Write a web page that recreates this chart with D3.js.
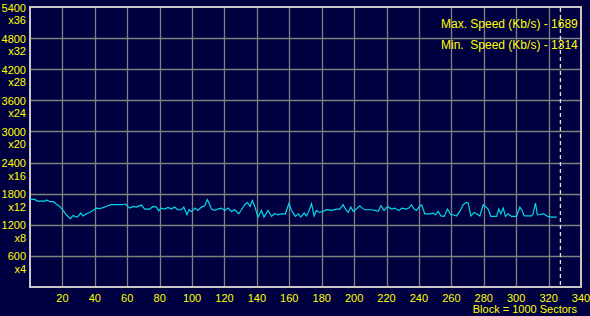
<!DOCTYPE html>
<html>
<head>
<meta charset="utf-8">
<script src="https://cdn.jsdelivr.net/npm/d3@7"></script>
<style>
  html, body { margin: 0; padding: 0; background: #000040; }
  svg { display: block; }
  text { font-family: "Liberation Sans", Arial, sans-serif; font-size: 11px; fill: #ffff00; }
  text.legend { font-size: 12px; white-space: pre; }
</style>
</head>
<body>
<svg id="chart" width="590" height="316"></svg>
<script>
// block number (x 1000 sectors) and read speed (Kb/s)
const blocks = [0, 3, 4.5, 9.5, 10, 12.5, 14.5, 16, 18.3, 20.4, 22.4, 24.9, 26.5, 28.6, 29.6, 31.3, 32.7, 34.8, 36.8, 38.9,
  41, 43, 46, 48, 50, 55, 57, 58.8, 61.5, 63.6, 65.6, 68.7, 70.8, 73.9, 75.9, 78, 79.4, 81, 83, 85.2,
  87.2, 89.3, 91, 93.4, 94.9, 96.9, 98.1, 99.6, 102, 103.5, 105.8, 107.8, 109.4, 110.3, 111.9, 114, 116, 118.1, 120.2, 122.2,
  124.3, 126.3, 128.8, 130.5, 132.5, 134.1, 135.8, 137.2, 138.7, 140.7, 142.8, 144.4, 146.9, 149, 151, 153, 155.1, 157.6, 159.7, 161.7,
  163.8, 165.6, 167.1, 169.1, 170.6, 172, 173.7, 175.3, 176.7, 178.8, 180.9, 182.9, 186, 189.1, 191.2, 193.2, 194.9, 196.3, 198, 199.4,
  200.8, 203.5, 205.6, 207.6, 210.7, 212.8, 214.8, 216.5, 218.5, 220.6, 223.1, 225.1, 227.6, 229.6, 232.3, 233.7, 235.4, 237, 238.5, 240,
  241.6, 243.6, 246.7, 248.8, 250.2, 251.9, 253.5, 255.6, 257.6, 259.7, 261.1, 263.2, 265.2, 267.3, 269.3, 270.4, 272, 274.1, 275.5, 277.6,
  279.6, 281, 282.7, 284.4, 287.9, 289.3, 290.5, 292, 293.4, 295, 297.1, 300.2, 302.3, 303.7, 304.9, 309.5, 310.5, 311.9, 313.1, 315.2,
  316.7, 319.5, 321.8, 325];
const speeds = [1689, 1689, 1658, 1658, 1677, 1645, 1645, 1606, 1554, 1477, 1393, 1314, 1380, 1348, 1360, 1426, 1370, 1412, 1438, 1477,
  1522, 1510, 1541, 1567, 1587, 1587, 1587, 1600, 1522, 1554, 1541, 1580, 1503, 1503, 1554, 1541, 1471, 1522, 1503, 1535,
  1503, 1541, 1490, 1490, 1541, 1393, 1490, 1458, 1522, 1477, 1541, 1567, 1683, 1632, 1503, 1477, 1503, 1522, 1477, 1522,
  1458, 1490, 1412, 1490, 1587, 1632, 1554, 1670, 1554, 1348, 1477, 1348, 1477, 1361, 1412, 1393, 1412, 1412, 1606, 1458,
  1361, 1412, 1348, 1426, 1370, 1458, 1606, 1370, 1477, 1438, 1458, 1490, 1477, 1503, 1503, 1587, 1490, 1438, 1541, 1458,
  1490, 1567, 1503, 1490, 1490, 1477, 1458, 1567, 1477, 1554, 1503, 1522, 1477, 1522, 1503, 1522, 1587, 1503, 1477, 1541,
  1587, 1412, 1412, 1426, 1393, 1458, 1370, 1361, 1503, 1393, 1393, 1370, 1458, 1587, 1632, 1620, 1370, 1438, 1412, 1370,
  1587, 1554, 1503, 1361, 1361, 1503, 1412, 1522, 1361, 1412, 1361, 1361, 1541, 1477, 1370, 1370, 1412, 1620, 1393, 1393,
  1412, 1361, 1348, 1348];

const xTicks = [20, 40, 60, 80, 100, 120, 140, 160, 180, 200, 220, 240, 260, 280, 300, 320, 340];
const yTicks = [600, 1200, 1800, 2400, 3000, 3600, 4200, 4800, 5400];
const cdSpeed = 150; // 1x CD = 150 Kb/s
const maxSpeed = 1689;
const minSpeed = 1314;
const endBlock = 327.3;

const width = 590;
const height = 316;
const margin = ({ top: 7, right: 9, bottom: 29, left: 30 });

const svg = d3.select('#chart');

const x = d3.scaleLinear()
  .domain([0, 340])
  .range([margin.left, width - margin.right]);

const y = d3.scaleLinear()
  .domain([0, 5400])
  .range([height - margin.bottom, margin.top]);

svg.append('rect')
  .attr('width', width)
  .attr('height', height)
  .attr('fill', '#000040');

// grid
const grid = svg.append('g')
  .attr('stroke', '#808080')
  .attr('stroke-width', 1.3);

grid.selectAll('.vline')
  .data(xTicks.filter(d => d < 340))
  .join('line')
  .attr('x1', d => Math.round(x(d)) + 0.5)
  .attr('x2', d => Math.round(x(d)) + 0.5)
  .attr('y1', y(5400))
  .attr('y2', y(0));

grid.selectAll('.hline')
  .data(yTicks.filter(d => d < 5400))
  .join('line')
  .attr('x1', x(0))
  .attr('x2', x(340))
  .attr('y1', d => Math.round(y(d)) + 0.5)
  .attr('y2', d => Math.round(y(d)) + 0.5);

// frame
svg.append('rect')
  .attr('x', x(0))
  .attr('y', y(5400))
  .attr('width', x(340) - x(0))
  .attr('height', y(0) - y(5400))
  .attr('fill', 'none')
  .attr('stroke', '#c8c8c8')
  .attr('stroke-width', 2);

// end of disc marker
svg.append('line')
  .attr('x1', x(endBlock))
  .attr('x2', x(endBlock))
  .attr('y1', y(5400) + 1)
  .attr('y2', y(0) - 1)
  .attr('stroke', '#e0e0e0')
  .attr('stroke-width', 1.3)
  .attr('stroke-dasharray', '4,3');

// speed curve
const line = d3.line()
  .x((d, i) => x(blocks[i]))
  .y(d => y(d));

svg.append('path')
  .datum(speeds)
  .attr('fill', 'none')
  .attr('stroke', '#00d8e8')
  .attr('stroke-width', 1.2)
  .attr('d', line);

// y labels
const yl = svg.append('g').attr('text-anchor', 'end');
yl.selectAll('.v')
  .data(yTicks)
  .join('text')
  .attr('x', 26)
  .attr('y', d => y(d) + 4.5)
  .text(d => d);
yl.selectAll('.m')
  .data(yTicks)
  .join('text')
  .attr('x', 26)
  .attr('y', d => y(d) + 17)
  .text(d => `x${d / cdSpeed}`);

// x labels
svg.append('g')
  .attr('text-anchor', 'middle')
  .selectAll('text')
  .data(xTicks)
  .join('text')
  .attr('x', d => x(d))
  .attr('y', 301.5)
  .text(d => d);

svg.append('text')
  .attr('x', 577)
  .attr('y', 313)
  .attr('text-anchor', 'end')
  .text('Block = 1000 Sectors');

// legend
svg.append('text')
  .attr('class', 'legend')
  .attr('x', 441)
  .attr('y', 27.5)
  .text(`Max. Speed (Kb/s) - ${maxSpeed}`);
svg.append('text')
  .attr('class', 'legend')
  .attr('x', 441)
  .attr('y', 48.5)
  .text(`Min.  Speed (Kb/s) - ${minSpeed}`);
</script>
</body>
</html>
